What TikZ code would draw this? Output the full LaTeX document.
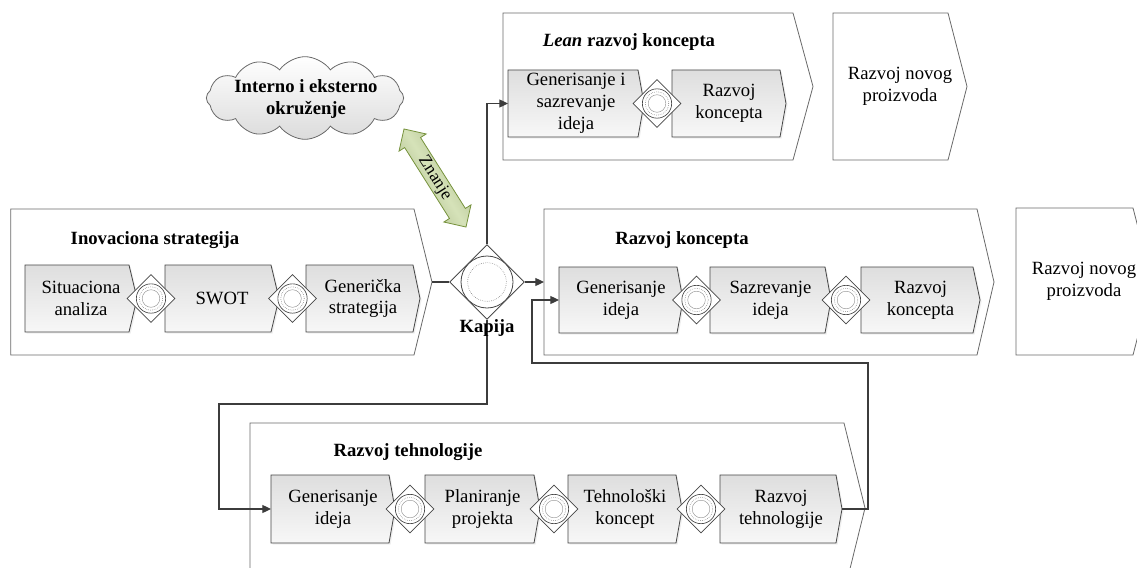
\documentclass[tikz,border=0pt]{standalone}
\usepackage{fontspec}
\setmainfont{Liberation Serif}
\usetikzlibrary{shapes.geometric,shapes.symbols,shapes.arrows,arrows.meta,shadows}

\definecolor{framegray}{RGB}{105,105,105}
\definecolor{subgray}{RGB}{70,70,70}
\definecolor{linegray}{RGB}{60,60,60}
\definecolor{knowfill}{RGB}{196,214,155}
\definecolor{knowdraw}{RGB}{118,146,60}

\tikzset{
  outerbox/.style={draw=framegray, fill=white, line width=0.6pt},
  subbox/.style={draw=subgray, line width=0.6pt, top color=black!13, bottom color=black!3,
    drop shadow={shadow xshift=1.2pt, shadow yshift=-1.2pt, opacity=0.12}},
  lbl/.style={align=center, font=\fontsize{14}{16.3}\selectfont, inner sep=0pt},
  ttl/.style={align=center, font=\fontsize{14}{16.3}\selectfont\bfseries, inner sep=0pt},
  conn/.style={draw=linegray, line width=0.9pt},
  arr/.style={conn, -{Triangle[length=6.5pt,width=6pt]}},
  gatesmall/.style={diamond, draw=subgray, fill=white, line width=0.5pt, inner sep=0pt,
    minimum width=36pt, minimum height=36pt},
  gatebig/.style={diamond, draw=subgray, fill=white, line width=0.6pt, inner sep=0pt,
    minimum width=56pt, minimum height=56pt},
}

% process box with a chevron right side: name, style, x1, y1, x2, y2, tip depth
\newcommand\chevbox[7]{%
  \path[#2] (#3,#4) -- (#5,#4) -- ({#5+#7},{(#4+#6)/2}) -- (#5,#6) -- (#3,#6) -- cycle;
  \coordinate (#1-w) at (#3,{(#4+#6)/2});
  \coordinate (#1-e) at ({#5+#7},{(#4+#6)/2});
  \coordinate (#1-c) at ({(#3+#5+#7)/2},{(#4+#6)/2});
}

% small event gateway between two steps
\newcommand\smallgate[3]{%
  \node[gatesmall] (#1) at (#2,#3) {};
  \draw[subgray, line width=0.5pt, fill=white] (#1.center) circle[radius=11pt];
  \draw[black!60, line width=0.4pt, densely dotted] (#1.center) circle[radius=8.8pt];
  \draw[black!45, line width=0.3pt] (#1.center) circle[radius=6.6pt];
}

\begin{document}
\begin{tikzpicture}[x=0.75pt, y=-0.75pt]
\useasboundingbox (0,0) rectangle (1137,567);
\begin{scope}
\clip (0,0) rectangle (1137,567);

% phase frames
\chevbox{inov}{outerbox}{10.7}{209}{414}{355}{18}
\chevbox{lean}{outerbox}{503}{13}{793}{160}{20}
\chevbox{rnpa}{outerbox}{833}{13}{948}{160}{19}
\chevbox{rk}{outerbox}{544}{209}{977}{355}{17}
\chevbox{rnpb}{outerbox}{1016}{208}{1133}{355}{19}
\chevbox{rt}{outerbox}{250}{423}{844}{593}{21}

% phase titles
\node[ttl] (inov-t) at (155,240) {Inovaciona strategija};
\node[ttl] (lean-t) at (629,42) {\textit{Lean} razvoj koncepta};
\node[ttl] (rk-t) at (682,240) {Razvoj koncepta};
\node[ttl] (rt-t) at (408,452) {Razvoj tehnologije};
\node[lbl] (rnpa-l) at (rnpa-c) {Razvoj novog\\proizvoda};
\node[lbl] (rnpb-l) at (rnpb-c) {Razvoj novog\\proizvoda};

% steps: innovation strategy
\chevbox{sit}{subbox}{25}{265}{129}{332}{8}
\chevbox{swot}{subbox}{165}{265}{271}{332}{8}
\chevbox{gen}{subbox}{306}{265}{413}{332}{7}
\node[lbl] (sit-l) at (sit-c) {Situaciona\\analiza};
\node[lbl] (swot-l) at (swot-c) {SWOT};
\node[lbl] (gen-l) at (gen-c) {Generička\\strategija};

% steps: lean concept development
\chevbox{ls1}{subbox}{508}{70}{638}{137}{6}
\chevbox{ls2}{subbox}{672}{70}{780}{137}{6}
\node[lbl] (ls1-l) at (ls1-c) {Generisanje i\\sazrevanje\\ideja};
\node[lbl] (ls2-l) at (ls2-c) {Razvoj\\koncepta};

% steps: concept development
\chevbox{ks1}{subbox}{559}{267}{677}{333}{6}
\chevbox{ks2}{subbox}{710}{267}{825}{333}{6}
\chevbox{ks3}{subbox}{861}{267}{973}{333}{7}
\node[lbl] (ks1-l) at (ks1-c) {Generisanje\\ideja};
\node[lbl] (ks2-l) at (ks2-c) {Sazrevanje\\ideja};
\node[lbl] (ks3-l) at (ks3-c) {Razvoj\\koncepta};

% steps: technology development
\chevbox{ts1}{subbox}{271}{475}{389}{543}{6}
\chevbox{ts2}{subbox}{425}{475}{534}{543}{6}
\chevbox{ts3}{subbox}{568}{475}{676}{543}{6}
\chevbox{ts4}{subbox}{720}{475}{836}{543}{6}
\node[lbl] (ts1-l) at (ts1-c) {Generisanje\\ideja};
\node[lbl] (ts2-l) at (ts2-c) {Planiranje\\projekta};
\node[lbl] (ts3-l) at (ts3-c) {Tehnološki\\koncept};
\node[lbl] (ts4-l) at (ts4-c) {Razvoj\\tehnologije};

% main gate
\node[gatebig] (kap) at (487,282) {};

% connectors
\coordinate (down) at (219,404);
\coordinate (fbr) at (868,363);
\coordinate (fbl) at (532,363);
\draw[conn] (inov-e) -- (kap.west);
\draw[arr] (kap.east) -- (rk-w);
\draw[arr] (kap.north) |- (ls1-w);
\draw[arr] (kap.south) |- (down) |- (ts1-w);
\draw[arr] (ts4-e) -| (fbr) -- (fbl) |- (ks1-w);

% gate symbols
\node[gatebig] (kapg) at (kap) {};
\draw[subgray, line width=0.6pt, fill=white] (kapg.center) circle[radius=19.5pt];
\draw[black!60, line width=0.4pt, densely dotted] (kapg.center) circle[radius=14.5pt];
\node[ttl, anchor=base] (kap-l) at (487,332) {Kapija};

\smallgate{g1}{151}{298.5}
\smallgate{g2}{292.5}{298.5}
\smallgate{g3}{657}{103.5}
\smallgate{g4}{696.5}{300}
\smallgate{g5}{846}{300}
\smallgate{g6}{410}{509}
\smallgate{g7}{554}{509}
\smallgate{g8}{701}{509}

% environment and knowledge exchange
\node[cloud, cloud puffs=12, cloud puff arc=110, aspect=2.5, draw=framegray, line width=0.6pt,
  top color=white, bottom color=black!14, minimum width=148pt, minimum height=62pt]
  (env) at (305,98) {};
\node[ttl] (env-l) at (306,99) {Interno i eksterno\\okruženje};

\node[double arrow, rotate=-57.7, draw=knowdraw, line width=0.6pt,
  left color=knowfill!85!black, right color=knowfill!85!black, middle color=knowfill!70!white,
  shading angle=-57.7,
  double arrow head extend=5pt, inner xsep=1pt, inner ysep=0.5pt,
  text height=9.5pt, text depth=3pt, minimum height=87pt,
  font=\fontsize{13}{15}\selectfont] (know) at (435,178) {Znanje};
\end{scope}
\end{tikzpicture}
\end{document}
